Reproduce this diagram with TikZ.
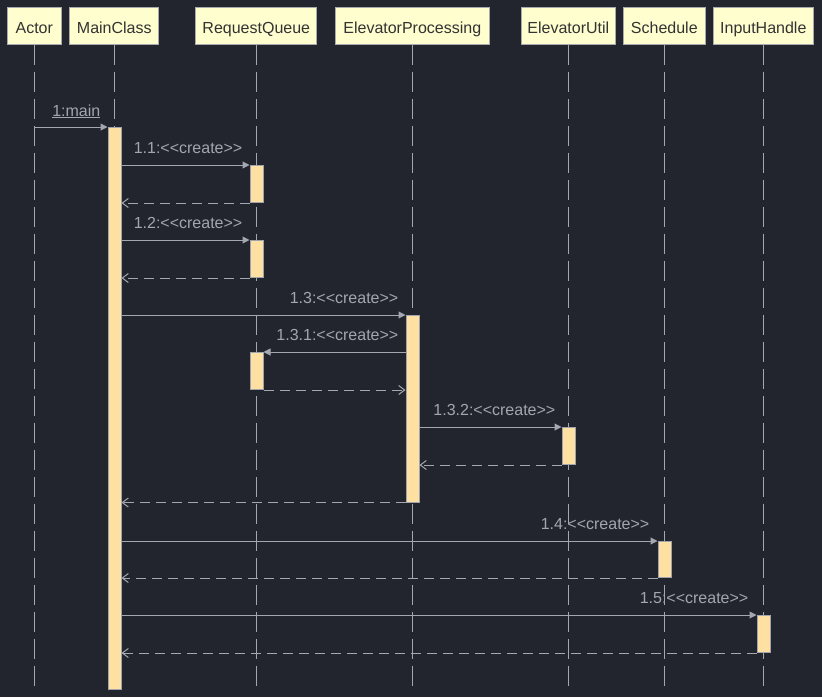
\documentclass[tikz,border=0pt]{standalone}
\usepackage{fontspec}
\setmainfont{Liberation Sans}
\usetikzlibrary{arrows.meta}
\definecolor{bg}{HTML}{22252D}
\definecolor{ln}{HTML}{A3A7AF}
\definecolor{lbl}{HTML}{A2A6AE}
\definecolor{hfill}{HTML}{FEFECE}
\definecolor{hdraw}{HTML}{A8AAAE}
\definecolor{htext}{HTML}{333333}
\definecolor{afill}{HTML}{FFE0A3}
\definecolor{adraw}{HTML}{A0A4AC}
\begin{document}
\begin{tikzpicture}[x=1pt,y=-1pt,
  hdr/.style={draw=hdraw,fill=hfill,line width=1.2pt,text=htext,minimum height=37pt,inner sep=0pt,
    text height=15pt,text depth=0pt,font=\fontsize{16}{19}\selectfont},
  life/.style={ln,line width=1.3pt,dash pattern=on 20pt off 7pt},
  act/.style={draw=adraw,fill=afill,line width=1pt,minimum width=13pt,inner sep=0pt,anchor=north},
  msg/.style={ln,line width=1pt,-{Triangle[length=7pt,width=7pt]}},
  ret/.style={ln,line width=1pt,dash pattern=on 10pt off 6pt,-{Straight Barb[length=6pt,width=9pt]}},
  lab/.style={text=lbl,inner sep=0pt,anchor=base east,font=\fontsize{16}{19}\selectfont}]
\fill[bg] (0,0) rectangle (822,697);
\useasboundingbox (0,0) rectangle (822,697);
% headers
\node[hdr,minimum width=54pt]  (actor) at (34.3,25.6) {Actor};
\node[hdr,minimum width=89pt]  (main)  at (114.3,25.6) {MainClass};
\node[hdr,minimum width=121pt] (rq)    at (256.3,25.6) {RequestQueue};
\node[hdr,minimum width=154pt] (ep)    at (412.3,25.6) {ElevatorProcessing};
\node[hdr,minimum width=94pt]  (eu)    at (568.3,25.6) {ElevatorUtil};
\node[hdr,minimum width=82pt]  (sch)   at (664.3,25.6) {Schedule};
\node[hdr,minimum width=100pt] (ih)    at (763.3,25.6) {InputHandle};
% lifeline ends
\foreach \n in {actor,main,rq,ep,eu,sch,ih}{
  \coordinate (\n end) at ([yshift=-644pt]\n.south);
  \draw[life] (\n.south) -- (\n end);
}
% activation bars
\node[act,minimum height=562pt] (a0) at (114.5,127) {};
\node[act,minimum height=37pt]  (a1) at (256.5,165) {};
\node[act,minimum height=37pt]  (a2) at (256.5,240) {};
\node[act,minimum height=186.5pt] (a3) at (412.5,315) {};
\node[act,minimum height=37pt]  (a4) at (256.5,352) {};
\node[act,minimum height=37pt]  (a5) at (568.5,427) {};
\node[act,minimum height=36pt]  (a6) at (664.5,541) {};
\node[act,minimum height=37pt]  (a7) at (763.5,615) {};
% 1:main
\draw[msg] (a0.north west -| actor.south) -- (a0.north west);
\node[lab] (l1) at ([xshift=-7pt,yshift=11pt]a0.north west) {\underline{1:main}};
% 1.1
\draw[msg] (a1.north west -| a0.east) -- (a1.north west);
\node[lab] (l11) at ([xshift=-7pt,yshift=11.7pt]a1.north west) {1.1:<{}<create>{}>};
\draw[ret] (a1.south west) -- (a1.south west -| a0.east);
% 1.2
\draw[msg] (a2.north west -| a0.east) -- (a2.north west);
\node[lab] (l12) at ([xshift=-7pt,yshift=11.7pt]a2.north west) {1.2:<{}<create>{}>};
\draw[ret] (a2.south west) -- (a2.south west -| a0.east);
% 1.3
\draw[msg] (a3.north west -| a0.east) -- (a3.north west);
\node[lab] (l13) at ([xshift=-7pt,yshift=11.7pt]a3.north west) {1.3:<{}<create>{}>};
% 1.3.1
\draw[msg] (a4.north east -| a3.west) -- (a4.north east);
\node[lab] (l131) at ([xshift=-7pt,yshift=11.7pt]a4.north east -| a3.west) {1.3.1:<{}<create>{}>};
\draw[ret] (a4.south east) -- (a4.south east -| a3.west);
% 1.3.2
\draw[msg] (a5.north west -| a3.east) -- (a5.north west);
\node[lab] (l132) at ([xshift=-6pt,yshift=11.7pt]a5.north west) {1.3.2:<{}<create>{}>};
\draw[ret] (a5.south west) -- (a5.south west -| a3.east);
\draw[ret] (a3.south west) -- (a3.south west -| a0.east);
% 1.4
\draw[msg] (a6.north west -| a0.east) -- (a6.north west);
\node[lab] (l14) at ([xshift=-8pt,yshift=11.7pt]a6.north west) {1.4:<{}<create>{}>};
\draw[ret] (a6.south west) -- (a6.south west -| a0.east);
% 1.5
\draw[msg] (a7.north west -| a0.east) -- (a7.north west);
\node[lab] (l15) at ([xshift=-8pt,yshift=11.7pt]a7.north west) {1.5:<{}<create>{}>};
\draw[ret] (a7.south west) -- (a7.south west -| a0.east);
\end{tikzpicture}
\end{document}
